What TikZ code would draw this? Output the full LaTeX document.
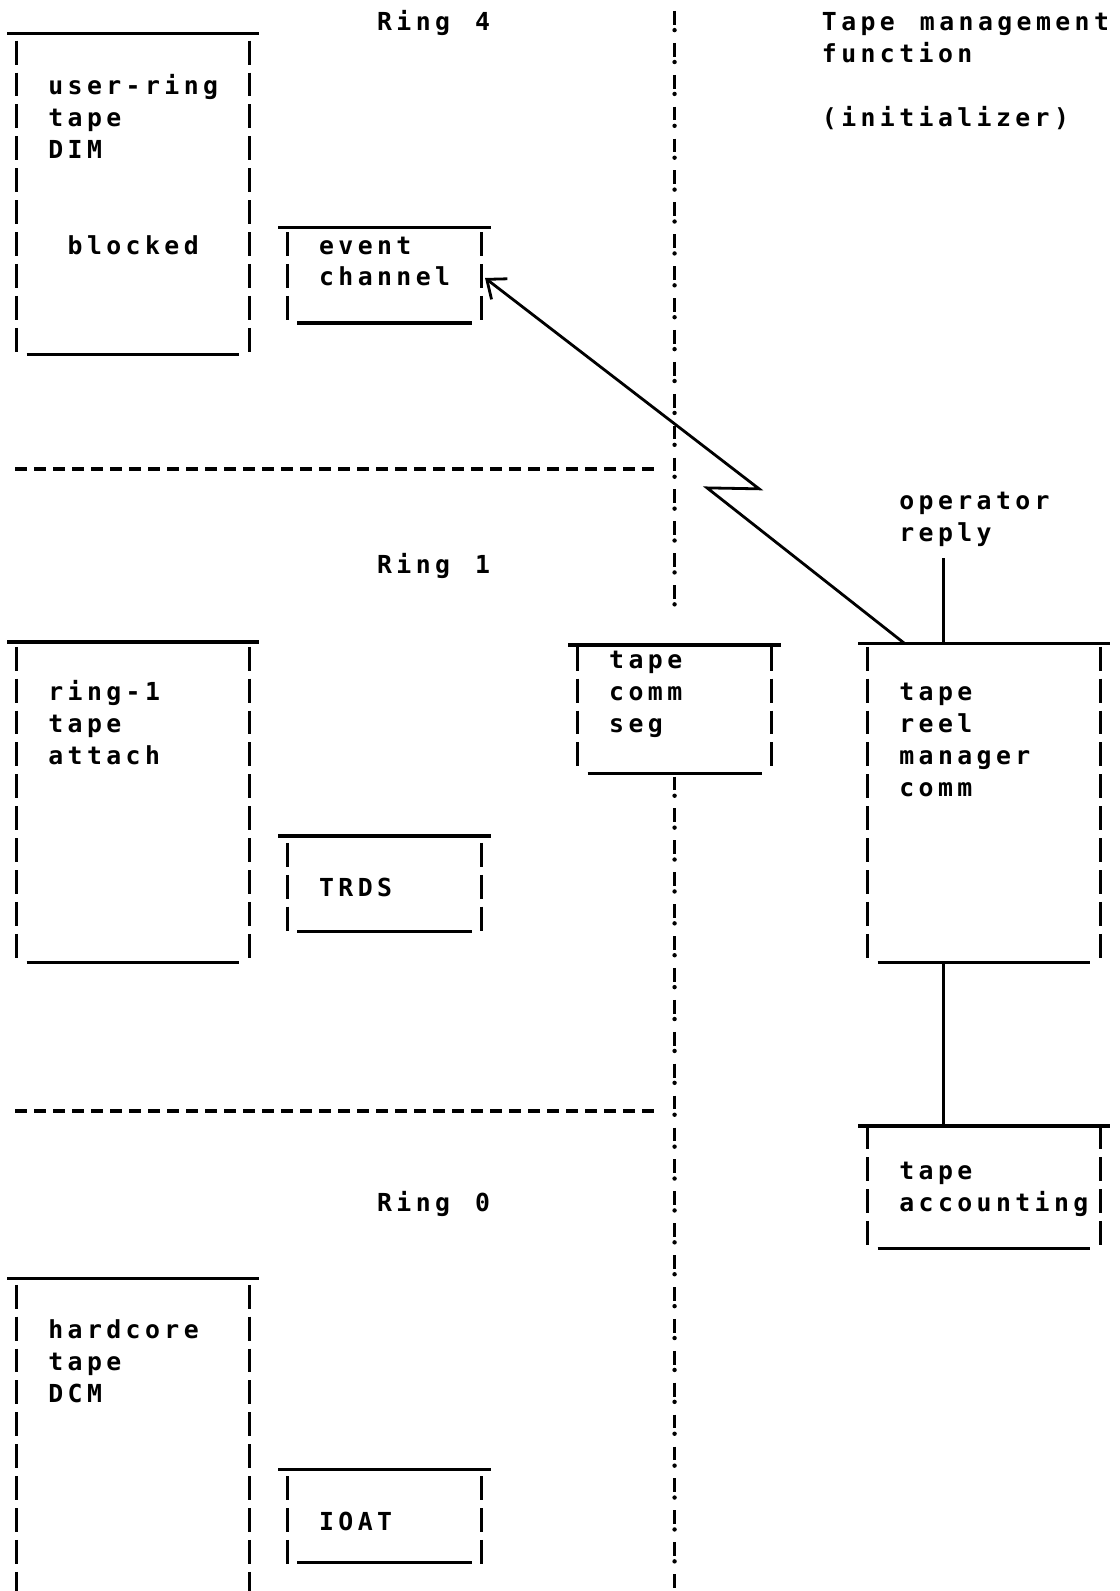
\documentclass[tikz,border=0pt]{standalone}
\usepackage{fontspec}
\setmonofont{DejaVu Sans Mono}[LetterSpace=17.8,WordSpace=1.296]
\usetikzlibrary{arrows.meta, calc, positioning}

% typed box: left col, right col, top rule row, first bar row, last bar row, bottom rule row
\newcommand{\typebox}[6]{
	\draw[rule] (#1-0.5,#3) -- (#2+0.5,#3);
	\draw[sides] (#1,#4-0.4) -- (#1,#5+0.35);
	\draw[sides] (#2,#4-0.4) -- (#2,#5+0.35);
	\draw[rule] (#1+0.5,#6) -- (#2-0.5,#6);
}

\begin{document}
\begin{tikzpicture}[x=9.67pt, y=-15.95pt]
	\tikzstyle{txt} = [font=\ttfamily\bfseries\fontsize{12.4}{15.95}\selectfont, anchor=base west, inner sep=0pt, align=left]
	\tikzstyle{rule} = [line width=1.7pt]
	\tikzstyle{sides} = [line width=1.5pt, dash pattern=on 11.96pt off 3.99pt]
	\tikzstyle{ringline} = [line width=2.2pt, dash pattern=on 6pt off 3.5pt]
	\tikzstyle{bangbar} = [line width=1.6pt, dash pattern=on 6.9pt off 9.05pt]
	\tikzstyle{bangdot} = [line width=2.2pt, line cap=round, dash pattern=on 0pt off 15.95pt]
	\tikzstyle{link} = [line width=1.4pt]

	\useasboundingbox (-0.879,-0.674) rectangle (56.98,49.2);

	% ring labels and headings (base = last line)
	\node[txt] (ring4) at (18.6,0.29) {Ring 4};
	\node[txt] (ring1) at (18.6,17.29) {Ring 1};
	\node[txt] (ring0) at (18.6,37.29) {Ring 0};
	\node[txt] (tmf) at (41.6,1.29) {Tape management\\function};
	\node[txt] (init) at (41.6,3.29) {(initializer)};
	\node[txt] (oprep) at (45.6,16.29) {operator\\reply};

	% box texts
	\node[txt] (dim) at (1.6,4.29) {user-ring\\tape\\DIM};
	\node[txt] (blocked) at (2.6,7.29) {blocked};
	\node[txt] (evch) at (15.6,8.29) {event\\channel};
	\node[txt] (attach) at (1.6,23.29) {ring-1\\tape\\attach};
	\node[txt] (seg) at (30.6,22.29) {tape\\comm\\seg};
	\node[txt] (reel) at (45.6,24.29) {tape\\reel\\manager\\comm};
	\node[txt] (trds) at (15.6,27.44) {TRDS};
	\node[txt] (acct) at (45.6,37.29) {tape\\accounting};
	\node[txt] (dcm) at (1.6,43.29) {hardcore\\tape\\DCM};
	\node[txt] (ioat) at (15.6,47.29) {IOAT};

	% box frames
	\typebox{0}{12}{0.38}{1}{10}{10.43}
	\typebox{14}{24}{6.45}{7}{9}{9.45}
	\typebox{0}{12}{19.45}{20}{29}{29.5}
	\typebox{14}{24}{25.53}{26.15}{28.15}{28.53}
	\typebox{29}{39}{19.55}{20}{23}{23.57}
	\typebox{44}{56}{19.5}{20}{29}{29.5}
	\typebox{44}{56}{34.62}{35}{38}{38.46}
	\typebox{14}{24}{45.4}{46}{48}{48.3}
	\draw[rule] (-0.5,39.4) -- (12.5,39.4);
	\draw[sides] (0,39.6) -- (0,49.2);
	\draw[sides] (12,39.6) -- (12,49.2);

	% ring boundaries
	\draw[ringline] (-0.1,14.03) -- (32.94,14.03);
	\draw[ringline] (-0.1,34.15) -- (32.94,34.15);
	\draw[bangbar] (34,-0.33) -- (34,18.1);
	\draw[bangdot] (34,0.27) -- (34,18.3);
	\draw[bangbar] (34,23.67) -- (34,49.2);
	\draw[bangdot] (34,24.27) -- (34,49.2);

	% connectors
	\coordinate (evtip) at (24.2,8.04);
	\coordinate (hook) at (45.9,19.5);
	\coordinate (zigl) at (35.68,14.62);
	\coordinate (zigr) at (38.37,14.65);
	\coordinate (replyfoot) at (47.9,16.82);
	\coordinate (reeltop) at (47.9,19.5);
	\coordinate (reelfoot) at (47.9,29.5);
	\coordinate (accttop) at (47.9,34.62);

	\draw[link, -{Straight Barb[length=8pt, width=13pt]}] (hook) -- (zigl) -- (zigr) -- (evtip);
	\draw[link] (replyfoot) -- (reeltop);
	\draw[link] (reelfoot) -- (accttop);
\end{tikzpicture}
\end{document}
